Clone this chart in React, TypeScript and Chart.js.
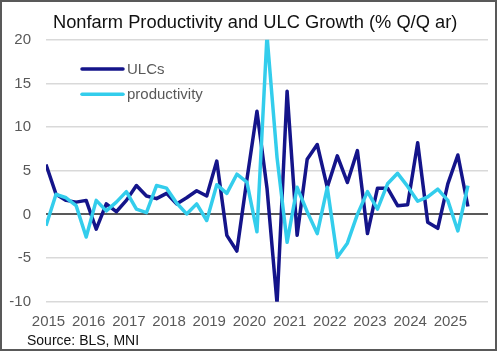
import React, { useEffect, useRef } from 'react';
import { Chart, registerables } from 'chart.js';

Chart.register(...registerables);

// Quarterly data, 2014Q4 .. 2025Q2 (% Q/Q annualised)
const quarterLabels: string[] = [];
for (let y = 2014; y <= 2025; y++) {
  for (let q = 1; q <= 4; q++) {
    if ((y === 2014 && q < 4) || (y === 2025 && q > 2)) continue;
    quarterLabels.push(`${y}Q${q}`);
  }
}

const ulcValues = [
  5.7, 2.3, 1.6, 1.4, 1.6, -1.7, 1.2, 0.3, 1.6, 3.3,
  2.1, 1.8, 2.4, 1.2, 1.9, 2.7, 2.1, 6.1, -2.4, -4.2,
  4.0, 11.8, 3.0, -10.2, 14.1, -2.4, 6.3, 8.0, 3.1, 6.7,
  3.65, 7.3, -2.2, 3.0, 3.0, 1.0, 1.1, 8.2, -0.9, -1.6,
  3.5, 6.8, 0.9,
];

const productivityValues = [
  -1.3, 2.3, 1.9, 1.0, -2.6, 1.6, 0.4, 1.4, 2.6, 0.6,
  0.2, 3.3, 3.0, 1.3, 0.05, 1.2, -0.7, 3.4, 2.4, 4.6,
  3.7, -2.0, 20.5, 6.5, -3.2, 3.1, 0.3, -2.2, 3.1, -4.9,
  -3.3, 0.0, 2.6, 0.6, 3.5, 4.7, 3.2, 1.5, 2.0, 2.9,
  1.6, -1.9, 3.3,
];

const yearLabels = ['2015', '2016', '2017', '2018', '2019', '2020', '2021', '2022', '2023', '2024', '2025'];

const titleText = 'Nonfarm Productivity and ULC Growth (% Q/Q ar)';
const sourceText = 'Source: BLS, MNI';
const seriesNames = ['ULCs', 'productivity'];

const ULC_COLOR = '#14148a';
const PROD_COLOR = '#33cdec';
const GRID_COLOR = '#d9d9d9';
const AXIS_TEXT = '#595959';
const FONT = '"Liberation Sans", Arial, sans-serif';

export default function App() {
  const ref = useRef<HTMLCanvasElement>(null);

  useEffect(() => {
    if (!ref.current) return;

    const overlay = {
      id: 'overlay',
      afterDraw(chart: any) {
        const ctx = chart.ctx;
        ctx.save();
        // title
        ctx.fillStyle = '#111111';
        ctx.font = `18.3px ${FONT}`;
        ctx.textAlign = 'left';
        ctx.textBaseline = 'alphabetic';
        ctx.fillText(titleText, 51, 26);
        // legend
        const items = [
          { name: seriesNames[0], color: ULC_COLOR, y: 67 },
          { name: seriesNames[1], color: PROD_COLOR, y: 92.3 },
        ];
        items.forEach((it) => {
          ctx.strokeStyle = it.color;
          ctx.lineWidth = 3.5;
          ctx.lineCap = 'round';
          ctx.beginPath();
          ctx.moveTo(80, it.y);
          ctx.lineTo(121, it.y);
          ctx.stroke();
          ctx.fillStyle = AXIS_TEXT;
          ctx.font = `15px ${FONT}`;
          ctx.textBaseline = 'middle';
          ctx.fillText(it.name, 125, it.y + 1);
        });
        // source
        ctx.fillStyle = '#111111';
        ctx.font = `14px ${FONT}`;
        ctx.textBaseline = 'alphabetic';
        ctx.fillText(sourceText, 25, 343);
        ctx.restore();
      },
    };

    const chart = new Chart(ref.current, {
      type: 'line',
      data: {
        labels: quarterLabels,
        datasets: [
          {
            label: seriesNames[0],
            data: ulcValues.map((v, i) => ({ x: i, y: v })),
            borderColor: ULC_COLOR,
            backgroundColor: ULC_COLOR,
            borderWidth: 3.5,
            pointRadius: 0,
            tension: 0,
            borderJoinStyle: 'round',
            clip: 0,
            order: 2,
          },
          {
            label: seriesNames[1],
            data: productivityValues.map((v, i) => ({ x: i, y: v })),
            borderColor: PROD_COLOR,
            backgroundColor: PROD_COLOR,
            borderWidth: 3.5,
            pointRadius: 0,
            tension: 0,
            borderJoinStyle: 'round',
            clip: 0,
            order: 1,
          },
        ],
      },
      options: {
        responsive: false,
        animation: false,
        devicePixelRatio: 1,
        layout: { padding: { top: 37.7, right: 7, left: 0, bottom: 0 } },
        plugins: {
          legend: { display: false },
          tooltip: { enabled: false },
          title: { display: false },
        },
        scales: {
          x: {
            type: 'linear',
            min: 0,
            max: 44,
            grid: { display: false, drawTicks: false },
            border: { display: false },
            afterBuildTicks: (scale: any) => {
              scale.ticks = yearLabels.map((_, k) => ({ value: k * 4 + 0.25 }));
            },
            afterFit: (scale: any) => {
              scale.height = 47.3;
            },
            ticks: {
              autoSkip: false,
              maxRotation: 0,
              padding: 11,
              color: AXIS_TEXT,
              font: { family: FONT, size: 15 },
              callback: (_v: any, index: number) => yearLabels[index],
            },
          },
          y: {
            min: -10,
            max: 20,
            afterFit: (scale: any) => {
              scale.width = 44;
            },
            grid: {
              drawTicks: false,
              color: (c: any) => (c.tick && c.tick.value === 0 ? '#595959' : GRID_COLOR),
              lineWidth: (c: any) => (c.tick && c.tick.value === 0 ? 2 : 1.6),
            },
            border: { display: false },
            ticks: {
              stepSize: 5,
              padding: 15,
              color: AXIS_TEXT,
              font: { family: FONT, size: 15 },
            },
          },
        },
      },
      plugins: [overlay],
    } as any);

    return () => chart.destroy();
  }, []);

  return (
    <div
      style={{
        position: 'fixed',
        left: 0,
        top: 0,
        width: 497,
        height: 351,
        boxSizing: 'border-box',
        border: '2px solid #595959',
        background: '#ffffff',
      }}
    >
      <canvas ref={ref} width={493} height={347} style={{ display: 'block', width: 493, height: 347 }} />
    </div>
  );
}
